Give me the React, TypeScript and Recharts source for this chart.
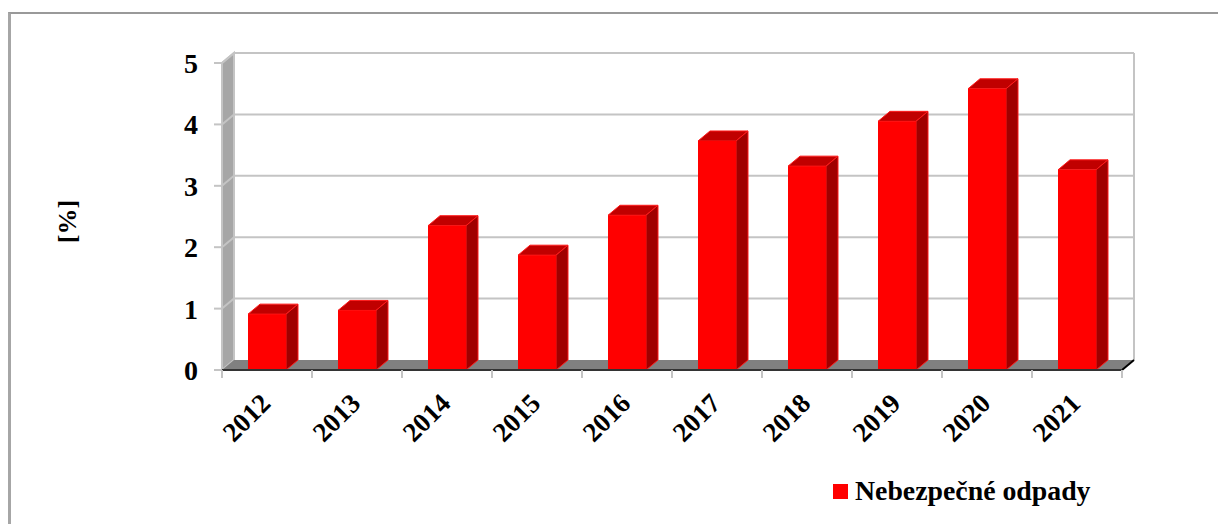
import React from 'react';
import { Bar, BarChart, CartesianGrid, Legend, XAxis, YAxis } from 'recharts';

const years = ['2012', '2013', '2014', '2015', '2016', '2017', '2018', '2019', '2020', '2021'];
const hazardousWaste = [0.91, 0.97, 2.35, 1.87, 2.52, 3.73, 3.32, 4.05, 4.58, 3.26];
const yTicks = [0, 1, 2, 3, 4, 5];

const data = years.map((year, i) => ({ year, value: hazardousWaste[i] }));

const WIDTH = 1218;
const HEIGHT = 524;
const PLOT_LEFT = 222;
const PLOT_RIGHT = 1122;
const PLOT_TOP = 63;
const PLOT_BOTTOM = 370;
const LEGEND_SPACE = 30;
const DEPTH_X = 12;
const DEPTH_Y = 10;
const FONT = '"Liberation Serif", "Times New Roman", serif';
const GRID_COLOR = '#c4c4c4';

// back wall, floor and grid lines of the fake 3D box
const GridLine = (props: any) => {
  const { y1, index } = props;
  const y = Number(y1);
  const isFloor = Math.abs(y - PLOT_BOTTOM) < 1;
  return (
    <g key={`grid-${index}`}>
      {isFloor && (
        <>
          <polygon
            points={`${PLOT_LEFT},${PLOT_TOP} ${PLOT_LEFT + DEPTH_X},${PLOT_TOP - DEPTH_Y} ${PLOT_LEFT + DEPTH_X},${PLOT_BOTTOM - DEPTH_Y} ${PLOT_LEFT},${PLOT_BOTTOM}`}
            fill="#a6a6a6"
            stroke={GRID_COLOR}
            strokeWidth={2}
          />
          <polygon
            points={`${PLOT_LEFT},${PLOT_BOTTOM} ${PLOT_LEFT + DEPTH_X},${PLOT_BOTTOM - DEPTH_Y} ${PLOT_RIGHT + DEPTH_X},${PLOT_BOTTOM - DEPTH_Y} ${PLOT_RIGHT},${PLOT_BOTTOM}`}
            fill="#808080"
          />
          <line x1={PLOT_RIGHT + DEPTH_X} y1={PLOT_TOP - DEPTH_Y} x2={PLOT_RIGHT + DEPTH_X} y2={PLOT_BOTTOM - DEPTH_Y} stroke={GRID_COLOR} strokeWidth={2} />
          <line x1={PLOT_RIGHT} y1={PLOT_BOTTOM} x2={PLOT_RIGHT + DEPTH_X} y2={PLOT_BOTTOM - DEPTH_Y} stroke="#000" strokeWidth={2} />
        </>
      )}
      {!isFloor && (
        <>
          <line x1={PLOT_LEFT} y1={y} x2={PLOT_LEFT + DEPTH_X} y2={y - DEPTH_Y} stroke={GRID_COLOR} strokeWidth={2} />
          <line x1={PLOT_LEFT + DEPTH_X} y1={y - DEPTH_Y} x2={PLOT_RIGHT + DEPTH_X} y2={y - DEPTH_Y} stroke={GRID_COLOR} strokeWidth={2} />
        </>
      )}
    </g>
  );
};

const Bar3D = (props: any) => {
  const { x, y, width, height } = props;
  const r = x + width;
  const b = y + height;
  return (
    <g stroke="#ff1a1a" strokeWidth={1} strokeLinejoin="round">
      <polygon points={`${x},${y} ${x + DEPTH_X},${y - DEPTH_Y} ${r + DEPTH_X},${y - DEPTH_Y} ${r},${y}`} fill="#c00000" />
      <polygon points={`${r},${y} ${r + DEPTH_X},${y - DEPTH_Y} ${r + DEPTH_X},${b - DEPTH_Y} ${r},${b}`} fill="#a00000" />
      <rect x={x} y={y} width={width} height={height} fill="#ff0000" stroke="none" />
    </g>
  );
};

const YearTick = (props: any) => {
  const { x, y, index, payload } = props;
  const half = payload.offset ?? 45;
  return (
    <g>
      <line x1={x - half} y1={PLOT_BOTTOM} x2={x - half} y2={PLOT_BOTTOM + 8} stroke={GRID_COLOR} strokeWidth={2} />
      {index === years.length - 1 && (
        <line x1={x + half} y1={PLOT_BOTTOM} x2={x + half} y2={PLOT_BOTTOM + 8} stroke={GRID_COLOR} strokeWidth={2} />
      )}
      <text
        x={x + 5}
        y={y + 27}
        transform={`rotate(-45 ${x + 5} ${y + 27})`}
        textAnchor="end"
        fontFamily={FONT}
        fontWeight="bold"
        fontSize={27}
        fill="#000"
      >
        {payload.value}
      </text>
    </g>
  );
};

const LegendBox = ({ payload }: any) => (
  <div style={{ height: LEGEND_SPACE, display: 'flex', alignItems: 'center' }}>
    {(payload || []).map((item: any) => (
      <div key={item.value} style={{ display: 'flex', alignItems: 'center' }}>
        <div style={{ width: 15, height: 15, background: item.color, marginRight: 7 }} />
        <span style={{ color: '#000', fontFamily: FONT, fontWeight: 'bold', fontSize: 27.8, lineHeight: `${LEGEND_SPACE}px` }}>{item.value}</span>
      </div>
    ))}
  </div>
);

const App = () => (
  <div style={{ position: 'absolute', left: 0, top: 0, width: WIDTH, height: HEIGHT, overflow: 'hidden', background: '#fff' }}>
    <div style={{ position: 'absolute', left: 8, top: 12, right: 0, bottom: 0, borderLeft: '3px solid #a6a6a6', borderTop: '2px solid #999' }} />
    <div style={{ position: 'absolute', left: 0, top: 0 }}>
      <BarChart
        width={WIDTH}
        height={HEIGHT}
        data={data}
        barSize={38}
        margin={{ top: PLOT_TOP, right: WIDTH - PLOT_RIGHT, bottom: 0, left: 0 }}
      >
        <CartesianGrid vertical={false} horizontal={GridLine as any} />
        <XAxis
          dataKey="year"
          height={HEIGHT - PLOT_BOTTOM - LEGEND_SPACE}
          interval={0}
          axisLine={{ stroke: '#333', strokeWidth: 2 }}
          tickLine={false}
          tick={YearTick}
        />
        <YAxis
          width={PLOT_LEFT}
          domain={[0, 5]}
          ticks={yTicks}
          interval={0}
          axisLine={false}
          tickLine={{ stroke: GRID_COLOR, strokeWidth: 2 }}
          tickSize={8}
          tickMargin={16}
          tick={{ fontFamily: FONT, fontWeight: 'bold', fontSize: 28, fill: '#000' }}
          label={{
            value: '[%]',
            angle: -90,
            position: 'insideLeft',
            offset: 67,
            dy: 5,
            style: { fontFamily: FONT, fontWeight: 'bold', fontSize: 26, fill: '#000', textAnchor: 'middle' },
          }}
        />
        <Legend
          content={LegendBox as any}
          wrapperStyle={{ position: 'absolute', left: 833, top: 476, width: 300, bottom: 'auto', margin: 0, padding: 0 }}
        />
        <Bar dataKey="value" name="Nebezpečné odpady" fill="#ff0000" shape={Bar3D} isAnimationActive={false} />
      </BarChart>
    </div>
  </div>
);

export default App;
